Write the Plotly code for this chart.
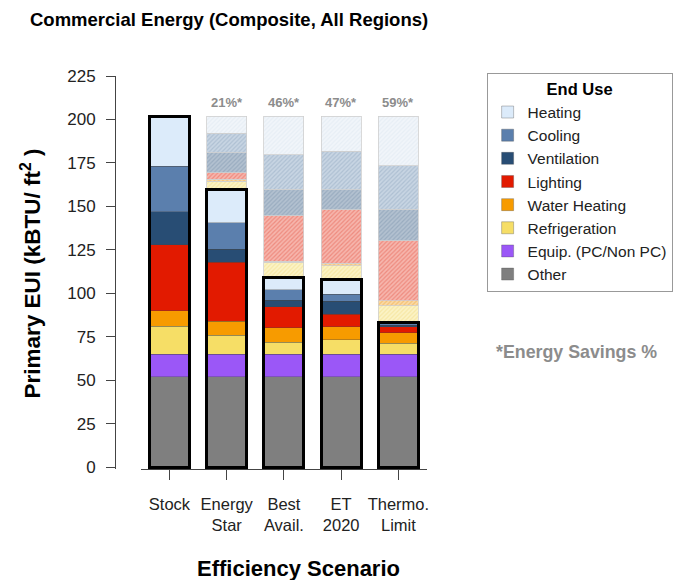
import plotly.graph_objects as go

# Scenarios (x axis) and end-use values in kBTU/ft2, stacked bottom -> top
scenarios = ["Stock", "Energy<br>Star", "Best<br>Avail.", "ET<br>2020", "Thermo.<br>Limit"]
savings_labels = ["", "21%*", "46%*", "47%*", "59%*"]

other = [52, 52, 52, 52, 52]
equip = [13, 13, 13, 13, 13]
refrigeration = [16, 11, 7, 8.2, 6.3]
water_heating = [9, 8, 8.3, 7.7, 6.1]
lighting = [38, 34, 12, 7.1, 3.5]
ventilation = [19, 7.5, 3.8, 7.6, 0.8]
cooling = [26, 15, 6.1, 3.9, 1.2]
heating = [29, 19, 6.7, 8.6, 0.3]

# name, values, solid colour, ghost background, ghost hatch
end_uses = [
    ("Other", other, "#7f7f7f", None, None),
    ("Equip. (PC/Non PC)", equip, "#9b57f7", None, None),
    ("Refrigeration", refrigeration, "#f6de66", "#fbf3c6", "#f1dc84"),
    ("Water Heating", water_heating, "#f79b00", "#fadaa8", "#f0a535"),
    ("Lighting", lighting, "#e21a00", "#f6b6ad", "#e6604f"),
    ("Ventilation", ventilation, "#284d74", "#b3c1d0", "#7f95ad"),
    ("Cooling", cooling, "#5b7fad", "#c8d5e3", "#93a9c2"),
    ("Heating", heating, "#dcebfa", "#f1f5fa", "#dbe5ef"),
]

FONT = "Liberation Sans, Arial, sans-serif"

fig = go.Figure()

# actual consumption
for name, vals, col, _, _ in end_uses:
    fig.add_trace(go.Bar(
        x=scenarios, y=vals, name=name,
        marker=dict(color=col, line=dict(color="rgba(70,70,70,0.55)", width=0.6)),
        hoverinfo="name+y",
    ))

# savings relative to stock, drawn hatched on top
for name, vals, col, bg, fg in end_uses:
    if bg is None:
        continue
    saved = [round(vals[0] - v, 2) for v in vals]
    saved = [s if s > 0 else None for s in saved]
    fig.add_trace(go.Bar(
        x=scenarios, y=saved, name=name + " savings", showlegend=False,
        marker=dict(color=bg, line=dict(color="#d0d0d0", width=0.8),
                    pattern=dict(shape="/", bgcolor=bg, fgcolor=fg, size=3, solidity=0.4)),
        hoverinfo="name+y",
    ))

# black outline around each scenario's actual total
totals = [sum(eu[1][i] for eu in end_uses) for i in range(len(scenarios))]
fig.add_trace(go.Bar(
    x=scenarios, y=totals, xaxis="x2", showlegend=False,
    marker=dict(color="rgba(0,0,0,0)", line=dict(color="black", width=3)),
    hoverinfo="skip",
))

ghost_top = totals[0]
for cat, lab in zip(scenarios, savings_labels):
    if lab:
        fig.add_annotation(x=cat, y=ghost_top, text="<b>" + lab + "</b>", showarrow=False,
                           yanchor="bottom", yshift=4,
                           font=dict(family=FONT, size=13, color="#8c8c8c"))

# page is shifted by the 8px body margin, so everything is laid out 8px up/left
FW, FH = 677, 572
L, R, T, B = 107, 256, 68, 111
W = FW - L - R
H = FH - T - B


def px(x):
    return (x - L) / W


def py(y):
    return (FH - B - y) / H


fig.add_annotation(text="<b>Primary EUI (kBTU/ ft<sup>2</sup> )</b>", textangle=-90,
                   xref="paper", yref="paper", x=px(22), y=py(266),
                   xanchor="center", yanchor="middle",
                   showarrow=False, font=dict(family=FONT, size=22.5, color="black"))
fig.add_annotation(text="<b>Efficiency Scenario</b>",
                   xref="paper", yref="paper", x=px(292), y=py(560),
                   xanchor="center", yanchor="middle",
                   showarrow=False, font=dict(family=FONT, size=22, color="black"))
fig.add_annotation(text="<b>*Energy Savings %</b>",
                   xref="paper", yref="paper", x=px(571), y=py(344),
                   xanchor="center", yanchor="middle",
                   showarrow=False, font=dict(family=FONT, size=17.8, color="#8c8c8c"))

fig.update_layout(
    width=FW, height=FH,
    margin=dict(l=L, r=R, t=T, b=B),
    paper_bgcolor="white", plot_bgcolor="white",
    barmode="stack", bargap=0.3,
    font=dict(family=FONT, size=15, color="#222"),
    title=dict(text="<b>Commercial Energy (Composite, All Regions)</b>",
               x=22 / FW, xanchor="left", y=1 - 12 / FH, yanchor="middle",
               font=dict(family=FONT, size=18.5, color="black")),
    xaxis=dict(domain=[px(133), 1], showline=True, linecolor="#444", linewidth=1,
               ticks="outside", ticklen=10, tickcolor="#444", showgrid=False,
               ticklabelstandoff=10, tickfont=dict(size=16.5, color="#222")),
    xaxis2=dict(overlaying="x", matches="x", visible=False),
    yaxis=dict(range=[-1, 225], anchor="free", position=0, showline=True,
               linecolor="#444", linewidth=1, ticks="outside", ticklen=9,
               tickcolor="#444", tickvals=list(range(0, 226, 25)), showgrid=False,
               zeroline=False, ticklabelstandoff=7, tickfont=dict(size=17, color="#222")),
    legend=dict(x=px(481), xanchor="left", y=py(65), yanchor="top",
                traceorder="reversed", bordercolor="#999", borderwidth=1,
                entrywidth=150, entrywidthmode="pixels",
                font=dict(family=FONT, size=15.5, color="#222"),
                title=dict(text="<b>End Use</b>", side="top center",
                           font=dict(family=FONT, size=16.5, color="black"))),
)

fig.write_html("out.html")
